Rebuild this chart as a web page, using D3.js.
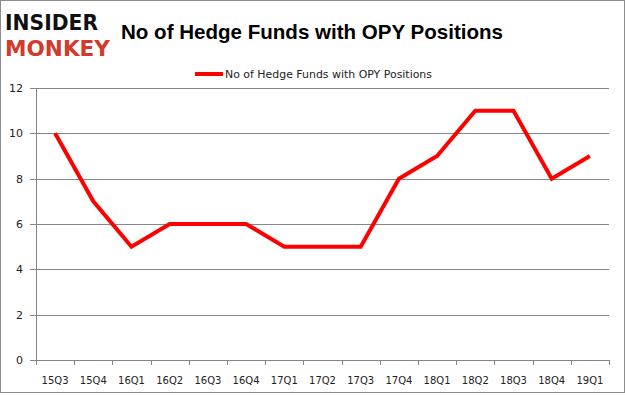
<!DOCTYPE html>
<html>
<head>
<meta charset="utf-8">
<script src="https://cdn.jsdelivr.net/npm/d3@7"></script>
<style>
  body { margin: 0; background: #fff; }
  svg { display: block; }
</style>
</head>
<body>
<div id="chart"></div>
<script>
// chart data
var quarters = ["15Q3", "15Q4", "16Q1", "16Q2", "16Q3", "16Q4", "17Q1", "17Q2", "17Q3", "17Q4", "18Q1", "18Q2", "18Q3", "18Q4", "19Q1"];
var funds = [10, 7, 5, 6, 6, 6, 5, 5, 5, 8, 9, 11, 11, 8, 9];
var yTicks = [0, 2, 4, 6, 8, 10, 12];
var seriesName = "No of Hedge Funds with OPY Positions";

var width = 625, height = 395;
var plot = {left: 36, right: 609, top: 88, bottom: 360};

var svg = d3.select("#chart").append("svg")
    .attr("width", width)
    .attr("height", height);

// outer frame
svg.append("rect")
    .attr("x", 0.5).attr("y", 0.5)
    .attr("width", width - 1).attr("height", height - 3)
    .attr("fill", "#fff")
    .attr("stroke", "#8c8c8c");

var x = d3.scaleBand()
    .domain(quarters)
    .range([plot.left, plot.right]);

var y = d3.scaleLinear()
    .domain([0, 12])
    .range([plot.bottom, plot.top]);

// gridlines + y ticks
svg.append("g")
    .selectAll("line")
    .data(yTicks)
    .enter().append("line")
    .attr("x1", plot.left - 6)
    .attr("x2", plot.right)
    .attr("y1", d => Math.round(y(d)) + 0.5)
    .attr("y2", d => Math.round(y(d)) + 0.5)
    .attr("stroke", "#868686")
    .attr("stroke-width", 1);

svg.append("g")
    .selectAll("text")
    .data(yTicks)
    .enter().append("text")
    .attr("x", 23)
    .attr("y", d => y(d))
    .attr("dy", "0.35em")
    .attr("text-anchor", "end")
    .style("font-family", "'DejaVu Sans', sans-serif")
    .style("font-size", "11px")
    .attr("fill", "#222")
    .text(d => d);

// y axis line
svg.append("line")
    .attr("x1", plot.left + 0.5).attr("x2", plot.left + 0.5)
    .attr("y1", plot.top).attr("y2", plot.bottom)
    .attr("stroke", "#868686");

// x axis ticks
var xEdges = quarters.map(q => x(q)).concat([plot.right]);
svg.append("g")
    .selectAll("line")
    .data(xEdges)
    .enter().append("line")
    .attr("x1", d => Math.round(d) + 0.5)
    .attr("x2", d => Math.round(d) + 0.5)
    .attr("y1", plot.bottom)
    .attr("y2", plot.bottom + 5)
    .attr("stroke", "#868686");

svg.append("g")
    .selectAll("text")
    .data(quarters)
    .enter().append("text")
    .attr("x", d => x(d) + x.bandwidth() / 2)
    .attr("y", 384)
    .attr("text-anchor", "middle")
    .style("font-family", "'DejaVu Sans', sans-serif")
    .style("font-size", "10px")
    .attr("fill", "#222")
    .text(d => d);

// the line
var line = d3.line()
    .x((d, i) => x(quarters[i]) + x.bandwidth() / 2)
    .y(d => y(d));

svg.append("path")
    .datum(funds)
    .attr("d", line)
    .attr("fill", "none")
    .attr("stroke", "#ff0000")
    .attr("stroke-width", 4)
    .attr("stroke-linejoin", "miter");

// title
svg.append("text")
    .attr("x", 121)
    .attr("y", 39)
    .attr("textLength", 382)
    .attr("lengthAdjust", "spacingAndGlyphs")
    .style("font-family", "'Liberation Sans', Arial, sans-serif")
    .style("font-weight", "bold")
    .style("font-size", "21px")
    .attr("fill", "#000")
    .text(seriesName);

// legend
svg.append("line")
    .attr("x1", 195).attr("x2", 223)
    .attr("y1", 74).attr("y2", 74)
    .attr("stroke", "#ff0000")
    .attr("stroke-width", 4);

svg.append("text")
    .attr("x", 225)
    .attr("y", 78)
    .attr("textLength", 207)
    .attr("lengthAdjust", "spacingAndGlyphs")
    .style("font-family", "'DejaVu Sans', sans-serif")
    .style("font-size", "11px")
    .attr("fill", "#222")
    .text(seriesName);

// logo
var logo = svg.append("g")
    .style("font-family", "'DejaVu Sans', sans-serif")
    .style("font-weight", "bold")
    .style("font-size", "22px");
logo.append("text")
    .attr("x", 5).attr("y", 30)
    .attr("textLength", 93)
    .attr("lengthAdjust", "spacingAndGlyphs")
    .attr("fill", "#111")
    .text("INSIDER");
logo.append("text")
    .attr("x", 5).attr("y", 56)
    .attr("textLength", 105)
    .attr("lengthAdjust", "spacingAndGlyphs")
    .attr("fill", "#d23a2a")
    .text("MONKEY");
</script>
</body>
</html>
